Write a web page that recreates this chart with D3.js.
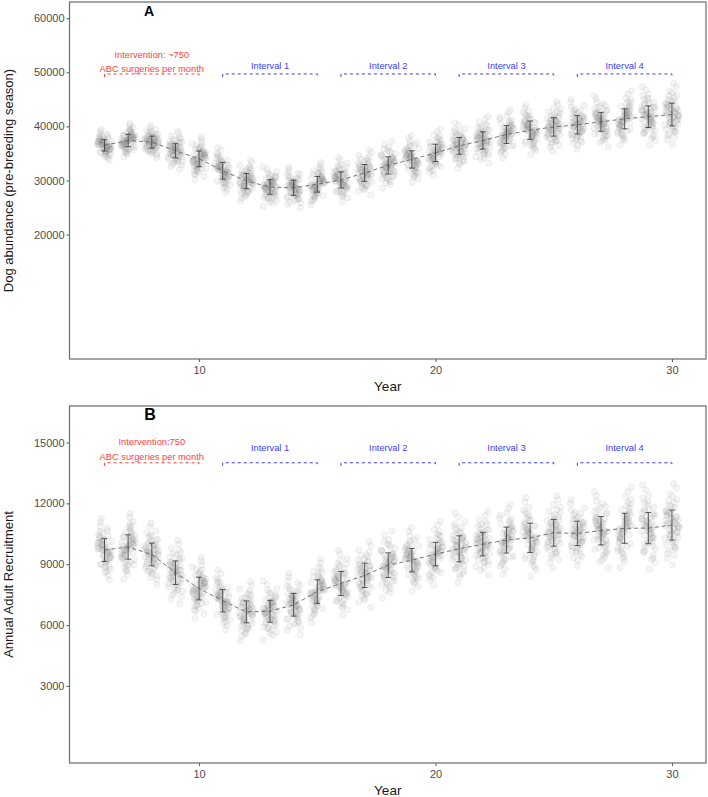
<!DOCTYPE html>
<html>
<head>
<meta charset="utf-8">
<script src="https://cdn.jsdelivr.net/npm/d3@7"></script>
<style>
  body { margin: 0; background: #fff; }
  svg { font-family: "Liberation Sans", Arial, sans-serif; }
  .tick text { fill: #4d4d4d; font-size: 11px; }
</style>
</head>
<body>
<svg id="chart" width="708" height="797"></svg>
<script>
var years = d3.range(6, 31);

// panel A: dog abundance, mean and sd per year
var abundanceMean = [36500, 37400, 37100, 35500, 34000, 31800, 29900, 28800, 28650, 29300,
                     30100, 31400, 32800, 33900, 35100, 36400, 37400, 38500, 39300, 39900,
                     40300, 40850, 41400, 41800, 42200];
var abundanceSd = [1050, 1150, 1100, 1300, 1450, 1550, 1400, 1350, 1400, 1450,
                   1500, 1550, 1600, 1600, 1600, 1550, 1600, 1650, 1700, 1700,
                   1700, 1750, 1850, 2000, 2100];

// panel B: annual adult recruitment
var recruitMean = [9700, 9850, 9480, 8580, 7800, 7200, 6650, 6680, 7000, 7650,
                   8050, 8450, 8950, 9200, 9500, 9760, 9990, 10190, 10300, 10550,
                   10520, 10650, 10770, 10780, 10930];
var recruitSd = [560, 600, 560, 580, 560, 550, 540, 540, 560, 580,
                 590, 600, 610, 580, 580, 640, 580, 640, 720, 660,
                 600, 700, 740, 770, 740];

var ticksA = [20000, 30000, 40000, 50000, 60000];
var ticksB = [3000, 6000, 9000, 12000, 15000];
var xTicks = [10, 20, 30];

// intervals drawn above the series: [start, end, label]
var intervals = [[11, 15, "Interval 1"], [16, 20, "Interval 2"], [21, 25, "Interval 3"], [26, 30, "Interval 4"]];
var interventionSpan = [6, 10];

// jitter pattern for the replicate runs (standard scores and horizontal offsets)
var runZ = [-0.12, 0.85, -1.43, 0.31, 1.92, -0.67, 0.04, -2.21, 1.18, -0.38, 0.59, -0.95, 2.45, -1.71, 0.22,
            -0.05, 1.51, -0.49, 0.73, -1.12, 0.15, -2.63, 0.96, -0.27, 1.34, -0.81, 0.42, -1.58, 2.08, -0.18,
            0.67, -1.02, 0.09, 1.71, -0.59, 0.28, -1.31, 0.51, -0.72, 1.06, -1.89, 0.36, -0.33, 2.76, -0.88,
            0.12, 1.24, -0.44, 0.79, -1.21, -0.08, 0.62, -2.02, 0.47, -0.63, 1.63, -0.22, 0.91, -1.49, 0.01];
var runDx = [0.62, -0.41, 0.13, -0.88, 0.35, 0.77, -0.19, 0.51, -0.66, 0.04, -0.93, 0.28, -0.55, 0.84, -0.07,
             0.46, -0.31, 0.95, -0.73, 0.18, -0.49, 0.69, -0.12, 0.39, -0.82, 0.57, -0.26, 0.08, -0.61, 0.91,
             -0.36, 0.23, -0.97, 0.44, -0.15, 0.72, -0.52, 0.11, 0.86, -0.68, 0.31, -0.03, 0.59, -0.45, 0.16,
             -0.79, 0.48, -0.22, 0.99, -0.58, 0.26, -0.87, 0.05, -0.34, 0.74, -0.63, 0.41, -0.1, 0.66, -0.29];

var svg = d3.select("#chart");
var left = 69.5, right = 706;

var x = d3.scaleLinear().domain([4.52, 31.44]).range([left, right]);

function drawPanel(opts) {
    var y = d3.scaleLinear().domain(opts.domain).range([opts.bottom, opts.top]);
    var g = svg.append("g");

    // replicate runs
    var pts = [];
    years.forEach(function(yr, i) {
        runZ.forEach(function(z, k) {
            var dx = runDx[(k + i * 7) % runDx.length];
            pts.push({x: yr + dx * 0.3, y: opts.mean[i] + z * opts.sd[i]});
        });
    });
    g.append("g").selectAll("circle")
        .data(pts)
        .enter().append("circle")
        .attr("cx", function(d) { return x(d.x); })
        .attr("cy", function(d) { return y(d.y); })
        .attr("r", 3.1)
        .attr("fill", "#808080")
        .attr("fill-opacity", 0.08)
        .attr("stroke", "#666")
        .attr("stroke-opacity", 0.1)
        .attr("stroke-width", 0.8);

    // dashed mean line
    var line = d3.line()
        .x(function(d, i) { return x(years[i]); })
        .y(function(d) { return y(d); });
    g.append("path")
        .attr("d", line(opts.mean))
        .attr("fill", "none")
        .attr("stroke", "#666")
        .attr("stroke-width", 0.9)
        .attr("stroke-dasharray", "4,3");

    // error bars (mean +/- sd)
    var bars = g.append("g").selectAll("g")
        .data(years)
        .enter().append("g")
        .attr("stroke", "#333")
        .attr("stroke-width", 0.8);
    bars.append("line")
        .attr("x1", function(d) { return x(d); })
        .attr("x2", function(d) { return x(d); })
        .attr("y1", function(d, i) { return y(opts.mean[i] - opts.sd[i]); })
        .attr("y2", function(d, i) { return y(opts.mean[i] + opts.sd[i]); });
    [-1, 1].forEach(function(s) {
        bars.append("line")
            .attr("x1", function(d) { return x(d - 0.12); })
            .attr("x2", function(d) { return x(d + 0.12); })
            .attr("y1", function(d, i) { return y(opts.mean[i] + s * opts.sd[i]); })
            .attr("y2", function(d, i) { return y(opts.mean[i] + s * opts.sd[i]); });
    });

    // brackets
    function bracket(x0, x1, yv, colour) {
        var yy = y(yv);
        g.append("path")
            .attr("d", "M" + x(x0) + "," + (yy + 3) + "V" + yy + "H" + x(x1) + "V" + (yy + 3))
            .attr("fill", "none")
            .attr("stroke", colour)
            .attr("stroke-width", 1)
            .attr("stroke-dasharray", "3,3");
    }
    intervals.forEach(function(iv) {
        bracket(iv[0], iv[1], opts.lineY, "#3b3bff");
        g.append("text")
            .attr("x", x((iv[0] + iv[1]) / 2))
            .attr("y", y(opts.labelY))
            .attr("text-anchor", "middle")
            .attr("font-size", "9.3px")
            .attr("fill", "#3b3bff")
            .text(iv[2]);
    });
    bracket(interventionSpan[0], interventionSpan[1], opts.lineY, "#ff4040");
    opts.redText.forEach(function(t) {
        g.append("text")
            .attr("x", x(8))
            .attr("y", y(t[0]))
            .attr("text-anchor", "middle")
            .attr("font-size", "9.3px")
            .attr("fill", "#ff4040")
            .text(t[1]);
    });

    // axes
    var yAxis = g.append("g")
        .attr("transform", "translate(" + left + ",0)")
        .call(d3.axisLeft(y).tickValues(opts.ticks).tickSize(3).tickPadding(2).tickFormat(d3.format("d")));
    var xAxis = g.append("g")
        .attr("transform", "translate(0," + opts.bottom + ")")
        .call(d3.axisBottom(x).tickValues(xTicks).tickSize(3).tickPadding(4));
    [yAxis, xAxis].forEach(function(a) {
        a.select(".domain").remove();
        a.selectAll(".tick line").attr("stroke", "#555");
    });

    // panel border
    g.append("rect")
        .attr("x", left)
        .attr("y", opts.top)
        .attr("width", right - left)
        .attr("height", opts.bottom - opts.top)
        .attr("fill", "none")
        .attr("stroke", "#6b6b6b")
        .attr("stroke-width", 1.2);

    // titles
    g.append("text")
        .attr("transform", "translate(13," + (opts.top + opts.bottom) / 2 + ") rotate(-90)")
        .attr("text-anchor", "middle")
        .attr("font-size", "13px")
        .attr("fill", "#1a1a1a")
        .text(opts.yTitle);
    g.append("text")
        .attr("x", (left + right) / 2)
        .attr("y", opts.bottom + 32)
        .attr("text-anchor", "middle")
        .attr("font-size", "13.5px")
        .attr("fill", "#1a1a1a")
        .text("Year");
    g.append("text")
        .attr("x", opts.letterX)
        .attr("y", opts.letterY)
        .attr("text-anchor", "middle")
        .attr("font-size", opts.letterSize)
        .attr("font-weight", "bold")
        .text(opts.letter);
}

drawPanel({
    top: 2, bottom: 359, domain: [-3000, 63000],
    mean: abundanceMean, sd: abundanceSd, ticks: ticksA,
    lineY: 49700, labelY: 50700,
    redText: [[52650, "Intervention: ~750"], [50150, "ABC surgeries per month"]],
    yTitle: "Dog abundance (pre-breeding season)",
    letter: "A", letterX: 149, letterY: 16, letterSize: "14px"
});

drawPanel({
    top: 406, bottom: 763, domain: [-800, 16800],
    mean: recruitMean, sd: recruitSd, ticks: ticksB,
    lineY: 14000, labelY: 14580,
    redText: [[14880, "Intervention:750"], [14150, "ABC surgeries per month"]],
    yTitle: "Annual Adult Recruitment",
    letter: "B", letterX: 150, letterY: 420, letterSize: "16px"
});
</script>
</body>
</html>
